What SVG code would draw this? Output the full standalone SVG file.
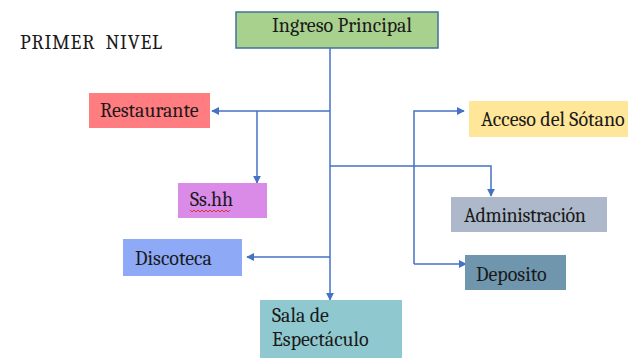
<svg xmlns="http://www.w3.org/2000/svg" width="628" height="358" viewBox="0 0 628 358">
<style>
.t{font-family:Cambria,Caladea,"Liberation Serif",serif;font-size:20px;fill:#1a1a1a}
.c{fill:none;stroke:#4472c4;stroke-width:1.5}
</style>
<defs>
<marker id="a" viewBox="0 0 10 10" refX="9" refY="5" markerWidth="8" markerHeight="8" markerUnits="userSpaceOnUse" orient="auto"><path d="M0,0L10,5L0,10z" fill="#4472c4"/></marker>
</defs>
<rect width="628" height="358" fill="#fff"/>
<text class="t" x="20" y="49" font-family="Cambria" font-size="18" xml:space="preserve" style="white-space:pre" textLength="142" lengthAdjust="spacing">PRIMER  NIVEL</text>
<g id="connectors">
<path class="c" d="M330,48V300" marker-end="url(#a)"/>
<path class="c" d="M330,111H212" marker-end="url(#a)"/>
<path class="c" d="M257,111V183" marker-end="url(#a)"/>
<path class="c" d="M330,257H247" marker-end="url(#a)"/>
<path class="c" d="M330,166H491V196" marker-end="url(#a)"/>
<path class="c" d="M414,264V111H464" marker-end="url(#a)"/>
<path class="c" d="M414,264H466" marker-end="url(#a)"/>
</g>
<g id="ingreso"><rect x="236" y="12" width="202" height="36" fill="#a9d18e" stroke="#41719c" stroke-width="1.5"/><text class="t" x="272" y="32" font-family="Cambria">Ingreso Principal</text></g>
<g id="restaurante"><rect x="89" y="93" width="121" height="35" fill="#ff7c80"/><text class="t" x="100" y="117" font-family="Cambria">Restaurante</text></g>
<g id="sshh"><rect x="178" y="183" width="89" height="35" fill="#da8be8"/><text class="t" x="190" y="206" font-family="Cambria">Ss.hh</text><path d="M190,210l2,2 2,-2 2,2 2,-2 2,2 2,-2 2,2 2,-2 2,2 2,-2 2,2 2,-2 2,2 2,-2 2,2 2,-2 2,2 2,-2 2,2 2,-2" fill="none" stroke="#e03030" stroke-width="1"/></g>
<g id="discoteca"><rect x="123" y="239" width="119" height="37" fill="#8eaaf7"/><text class="t" x="135" y="265" font-family="Cambria">Discoteca</text></g>
<g id="sala"><rect x="260" y="300" width="142" height="60" fill="#8fc9cf"/><text class="t" x="272" y="322" font-family="Cambria">Sala de</text><text class="t" x="272" y="346" font-family="Cambria">Espectáculo</text></g>
<g id="acceso"><rect x="469" y="101" width="159" height="36" fill="#ffe699"/><text class="t" x="481" y="126" font-family="Cambria">Acceso del Sótano</text></g>
<g id="administracion"><rect x="451" y="197" width="156" height="35" fill="#adb9ca"/><text class="t" x="464" y="222" font-family="Cambria" textLength="122" lengthAdjust="spacing">Administración</text></g>
<g id="deposito"><rect x="465" y="255" width="101" height="35" fill="#6f96ad"/><text class="t" x="476" y="281" font-family="Cambria">Deposito</text></g>
</svg>
